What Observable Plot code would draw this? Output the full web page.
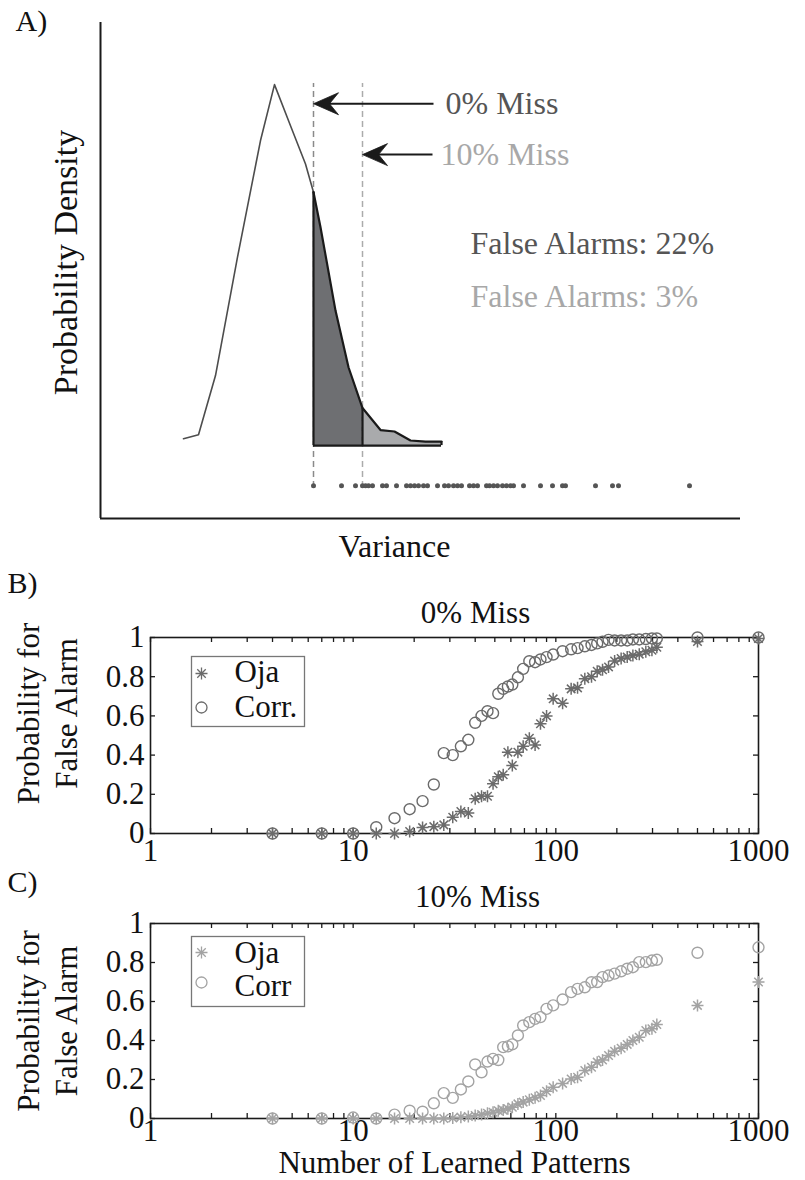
<!DOCTYPE html>
<html><head><meta charset="utf-8">
<script src="https://cdn.jsdelivr.net/npm/d3@7"></script>
<script src="https://cdn.jsdelivr.net/npm/@observablehq/plot@0.6"></script>
<style>
body{margin:0;background:#fff;}
#wrap{position:relative;width:805px;height:1180px;background:#fff;}
.panel{position:absolute;left:0;}
#wrap svg, #wrap svg text{font-family:"Liberation Serif","Times New Roman",serif !important;}
</style></head><body><div id="wrap"></div>
<script>
// ---------- Panel A data ----------
const curveVariance = [0.83,0.98,1.15,1.37,1.60,1.74,1.90,2.05,2.13,2.20,2.35,2.48,2.62,2.80,2.94,3.10,3.25,3.41];
const curveDensity  = [0.019,0.030,0.194,0.522,0.845,1.0,0.886,0.780,0.702,0.605,0.374,0.217,0.104,0.043,0.039,0.014,0.011,0.011];
const threshold0 = 2.13;   // 0% miss
const threshold10 = 2.62;  // 10% miss
const sampleVariance = [2.13,2.41,2.55,2.62,2.65,2.68,2.72,2.82,2.86,2.96,3.06,3.10,3.14,3.18,3.23,3.27,3.37,3.44,3.48,3.53,3.57,3.61,3.69,3.73,3.77,3.86,3.89,3.93,3.97,4.02,4.06,4.10,4.13,4.23,4.40,4.52,4.62,4.65,4.95,5.12,5.18,5.89];
const annotationTexts = ["0% Miss","10% Miss","False Alarms: 22%","False Alarms: 3%"];

// ---------- Panels B and C data ----------
const patterns = [4,7,10,13,16,19,22,25,28,31,34,37,40,43,46,49,52,55,58,61,65,69,74,79,84,90,97,108,119,128,139,150,160,170,182,195,210,225,240,258,278,298,315,500,1000];
const corrMiss0 = [0,0,0,0.032,0.078,0.124,0.165,0.25,0.41,0.40,0.445,0.478,0.565,0.60,0.624,0.614,0.713,0.738,0.75,0.76,0.797,0.84,0.879,0.874,0.888,0.90,0.913,0.93,0.94,0.946,0.955,0.962,0.97,0.978,0.988,0.985,0.985,0.985,0.99,0.99,0.992,0.995,0.995,1.0,1.0];
const ojaMiss0  = [0,0,0,0,0,0.01,0.03,0.035,0.044,0.083,0.112,0.105,0.177,0.19,0.19,0.254,0.29,0.30,0.415,0.347,0.415,0.445,0.486,0.452,0.56,0.60,0.687,0.665,0.738,0.743,0.79,0.80,0.828,0.835,0.85,0.88,0.893,0.90,0.908,0.915,0.927,0.935,0.95,0.98,0.995];
const corrMiss10 = [0,0,0.005,0,0.02,0.04,0.035,0.078,0.13,0.106,0.149,0.19,0.277,0.237,0.292,0.306,0.30,0.366,0.37,0.38,0.426,0.477,0.494,0.511,0.52,0.562,0.58,0.61,0.648,0.665,0.673,0.699,0.70,0.725,0.733,0.743,0.755,0.768,0.776,0.802,0.802,0.81,0.814,0.85,0.878];
const ojaMiss10  = [0,0,0,0,0,0,0,0,0,0.003,0.007,0.01,0.015,0.02,0.027,0.032,0.04,0.043,0.05,0.058,0.075,0.084,0.096,0.106,0.118,0.14,0.16,0.18,0.203,0.212,0.246,0.263,0.289,0.30,0.323,0.345,0.36,0.38,0.40,0.417,0.451,0.46,0.482,0.58,0.70];
const xMajorTicks = [1,10,100,1000];
const xMinorTicks = [2,3,4,5,6,7,8,9,20,30,40,50,60,70,80,90,200,300,400,500,600,700,800,900];
const yTicks = [0,0.2,0.4,0.6,0.8,1];

const FONT = "Liberation Serif";
const wrap = document.getElementById("wrap");
const C = {textAnchor:"middle", lineAnchor:"middle", fontFamily:FONT};
const L = {textAnchor:"start", lineAnchor:"middle", fontFamily:FONT};

// MATLAB-style 8-arm asterisk
const asterisk8 = {draw(ctx, size){
  const r = Math.sqrt(size/Math.PI), d = r*Math.SQRT1_2;
  ctx.moveTo(-r,0);ctx.lineTo(r,0);ctx.moveTo(0,-r);ctx.lineTo(0,r);
  ctx.moveTo(-d,-d);ctx.lineTo(d,d);ctx.moveTo(-d,d);ctx.lineTo(d,-d);
}};
// barbed arrowhead pointing left, tip at origin
const arrowHead = {draw(ctx){
  ctx.moveTo(0,0);ctx.lineTo(25,-11);ctx.lineTo(16,0);ctx.lineTo(25,11);ctx.closePath();
}};

function place(svg, top){
  const d = document.createElement("div");
  d.className="panel"; d.style.top = top+"px";
  d.appendChild(svg); wrap.appendChild(d);
}

// ---------- Panel A ----------
{
  const curve = curveVariance.map((v,i)=>({v, d: curveDensity[i]}));
  const yMin = -0.202, yMax = 1.172;
  const darkPart = curve.filter(p=>p.v>=threshold0 && p.v<=threshold10);
  const lightPart = curve.filter(p=>p.v>=threshold10);
  const leftPart = curve.filter(p=>p.v<=threshold0);
  const rightPart = curve.filter(p=>p.v>=threshold0);
  const endV = curveVariance[curveVariance.length-1];
  const edges = curve.filter(p=>p.v===threshold0||p.v===threshold10||p.v===endV);
  const arrows = [
    {x1:3.33, x2:threshold0, y:0.947},
    {x1:3.32, x2:threshold10, y:0.806}
  ];
  const labels = [
    {x:3.45, y:0.947, t:annotationTexts[0], c:"#555"},
    {x:3.40, y:0.806, t:annotationTexts[1], c:"#a8a8a8"},
    {x:3.70, y:0.56, t:annotationTexts[2], c:"#555"},
    {x:3.70, y:0.413, t:annotationTexts[3], c:"#a8a8a8"}
  ];
  const svg = Plot.plot({
    width:805, height:560, marginLeft:100, marginRight:65, marginTop:22, marginBottom:42,
    style:{fontFamily:FONT, fontSize:"32px", color:"#111", background:"white", overflow:"visible"},
    x:{domain:[0,6.4], axis:null},
    y:{domain:[yMin,yMax], axis:null},
    marks:[
      Plot.ruleX([0],{y1:yMin,y2:yMax,stroke:"#1a1a1a",strokeWidth:2}),
      Plot.ruleY([yMin],{x1:0,x2:6.4,stroke:"#1a1a1a",strokeWidth:2}),
      Plot.areaY(darkPart,{x:"v",y:"d",fill:"#6e6f72"}),
      Plot.areaY(lightPart,{x:"v",y:"d",fill:"#a9aaac"}),
      Plot.ruleX([threshold0],{y1:-0.116,y2:1.003,stroke:"#8a8a8a",strokeWidth:1.5,strokeDasharray:"6,4"}),
      Plot.ruleX([threshold10],{y1:-0.116,y2:1.003,stroke:"#ababab",strokeWidth:1.5,strokeDasharray:"6,4"}),
      Plot.lineY(leftPart,{x:"v",y:"d",stroke:"#4d4d4d",strokeWidth:1.6}),
      Plot.lineY(rightPart,{x:"v",y:"d",stroke:"#1a1a1a",strokeWidth:2.2}),
      Plot.ruleX(edges,{x:"v",y1:0,y2:"d",stroke:"#1a1a1a",strokeWidth:2.2}),
      Plot.ruleY([0],{x1:threshold0,x2:endV,stroke:"#1a1a1a",strokeWidth:2.2}),
      Plot.dot(sampleVariance,{x:d=>d,y:-0.111,r:2.5,fill:"#555",stroke:"none"}),
      Plot.link(arrows,{x1:"x1",x2:d=>d.x2+0.12,y1:"y",y2:"y",stroke:"#1a1a1a",strokeWidth:2}),
      Plot.dot(arrows,{x:"x2",y:"y",symbol:arrowHead,fill:"#1a1a1a",stroke:"#1a1a1a",strokeWidth:0.8}),
      Plot.text(labels,{x:"x",y:"y",text:"t",fill:"c",...L}),
      Plot.text(["Probability Density"],{frameAnchor:"left",rotate:-90,dx:-34,dy:-8,fontSize:34,...C}),
      Plot.text(["Variance"],{frameAnchor:"bottom",dx:-26,dy:28,...C}),
      Plot.text(["A)"],{frameAnchor:"top-left",dx:-85,dy:-1,fontSize:30,...L})
    ]
  });
  place(svg,0);
}

// ---------- Panels B & C ----------
function panel(cfg){
  const W=805,H=310,ml=150,mr=47;
  const fw=W-ml-mr, fh=H-cfg.mt-cfg.mb;
  const corr = patterns.map((x,i)=>({x,y:cfg.corr[i]}));
  const oja = patterns.map((x,i)=>({x,y:cfg.oja[i]}));
  const allX = xMajorTicks.concat(xMinorTicks);
  const marks = [
    Plot.frame({stroke:"#1a1a1a",strokeWidth:1.6}),
    Plot.tickX(allX,{x:d=>d,insetTop:fh-5,stroke:"#1a1a1a",strokeWidth:1.3}),
    Plot.tickX(allX,{x:d=>d,insetBottom:fh-5,stroke:"#1a1a1a",strokeWidth:1.3}),
    Plot.tickY(yTicks,{y:d=>d,insetRight:fw-5,stroke:"#1a1a1a",strokeWidth:1.3}),
    Plot.tickY(yTicks,{y:d=>d,insetLeft:fw-5,stroke:"#1a1a1a",strokeWidth:1.3}),
    Plot.axisX({ticks:xMajorTicks,tickSize:0,tickPadding:cfg.xpad,tickFormat:d=>String(d),label:null,fontFamily:FONT}),
    Plot.axisY({ticks:yTicks,tickSize:0,tickPadding:6,tickFormat:d=>String(d),label:null,fontFamily:FONT}),
    Plot.text(["Probability for\nFalse Alarm"],{frameAnchor:"left",rotate:-90,dx:-105,dy:cfg.ylabDy,lineHeight:1.22,...C}),
    Plot.text([cfg.title],{frameAnchor:"top",dx:cfg.titleDx,dy:cfg.titleDy,...C}),
    Plot.text([cfg.letter],{frameAnchor:"top-left",dx:-143,dy:cfg.letterDy,fontSize:30,...L}),
    Plot.dot(corr,{x:"x",y:"y",r:5.5,symbol:"circle",fill:"none",stroke:cfg.color,strokeWidth:1.4}),
    Plot.dot(oja,{x:"x",y:"y",r:6,symbol:asterisk8,fill:"none",stroke:cfg.color,strokeWidth:1.5}),
    // legend
    Plot.frame({insetLeft:41,insetRight:fw-154,insetTop:cfg.legTop,insetBottom:fh-cfg.legTop-70,fill:"white",stroke:"#777",strokeWidth:1.3}),
    Plot.dot([0],{frameAnchor:"top-left",dx:51,dy:cfg.leg1,r:6,symbol:asterisk8,fill:"none",stroke:cfg.color,strokeWidth:1.3}),
    Plot.dot([0],{frameAnchor:"top-left",dx:51,dy:cfg.leg2,r:5.5,symbol:"circle",fill:"none",stroke:cfg.color,strokeWidth:1.3}),
    Plot.text(["Oja"],{frameAnchor:"top-left",dx:84,dy:cfg.leg1t,...L}),
    Plot.text([cfg.corrLabel],{frameAnchor:"top-left",dx:84,dy:cfg.leg2t,...L})
  ];
  if (cfg.xlabel) marks.push(Plot.text([cfg.xlabel],{frameAnchor:"bottom",dy:45,fontSize:31,...C}));
  return Plot.plot({
    width:W,height:H,marginLeft:ml,marginRight:mr,marginTop:cfg.mt,marginBottom:cfg.mb,
    style:{fontFamily:FONT,fontSize:"31px",color:"#111",background:"white",overflow:"visible"},
    x:{type:"log",domain:[1,1000]},
    y:{domain:[0,1]},
    marks
  });
}

place(panel({mt:77,mb:37,xpad:5,corr:corrMiss0,oja:ojaMiss0,color:"#6b6b6b",title:"0% Miss",titleDx:21,titleDy:-24,
  letter:"B)",letterDy:-54,ylabDy:-22,legTop:19,leg1:36,leg2:70,leg1t:35,leg2t:70,corrLabel:"Corr."}),560);
place(panel({mt:53,mb:62,xpad:0,corr:corrMiss10,oja:ojaMiss10,color:"#a3a3a3",title:"10% Miss",titleDx:23,titleDy:-26,
  letter:"C)",letterDy:-41,ylabDy:0,legTop:13,leg1:29,leg2:59,leg1t:30,leg2t:63,corrLabel:"Corr",xlabel:"Number of Learned Patterns"}),870);
</script></body></html>
